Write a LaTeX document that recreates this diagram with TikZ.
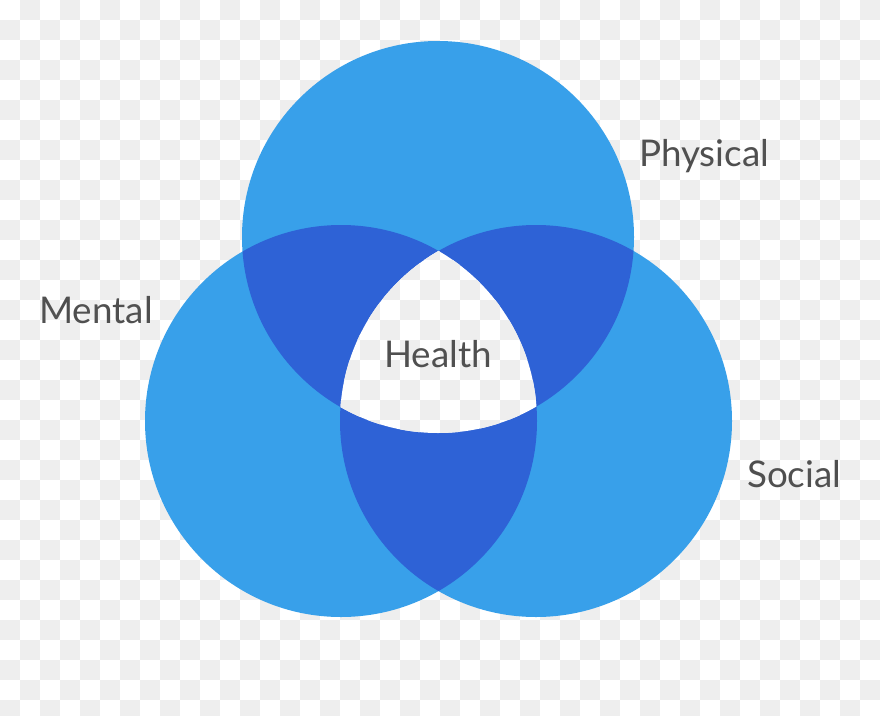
\documentclass[tikz,border=0pt]{standalone}
\usepackage{fontspec}
\newfontfamily\labfont{Lato}
\definecolor{lightblue}{HTML}{38A0EA}
\definecolor{darkblue}{HTML}{2E62D6}
\definecolor{chkgray}{HTML}{EEEEEE}
\definecolor{labgray}{HTML}{505050}
\tikzset{
  lab/.style={font=\labfont\fontsize{36.8}{42}\selectfont, text=labgray, inner sep=0pt, anchor=base west},
  chk/.style={fill=chkgray}
}
\newcommand\mychecks{%
  \foreach \j in {0,...,35}{%
    \pgfmathtruncatemacro\sh{mod(\j,2)}%
    \foreach \i in {0,2,...,42}{%
      \fill[chk] ({(\i+1-\sh)*20},{\j*20}) rectangle ++(20,20);
    }}}
\begin{document}
\begin{tikzpicture}[x=1pt,y=-1pt]
\useasboundingbox (0,0) rectangle (880,715);
\fill[white] (0,0) rectangle (880,715);
\mychecks
\coordinate (ctop) at (438,237);
\coordinate (cleft) at (341,421);
\coordinate (cright) at (536,421);
\def\r{196}
% base circles
\fill[lightblue] (ctop) circle[radius=\r];
\fill[lightblue] (cleft) circle[radius=\r];
\fill[lightblue] (cright) circle[radius=\r];
% pairwise overlaps
\begin{scope}
  \clip (ctop) circle[radius=\r];
  \fill[darkblue] (cleft) circle[radius=\r];
  \fill[darkblue] (cright) circle[radius=\r];
\end{scope}
\begin{scope}
  \clip (cleft) circle[radius=\r];
  \fill[darkblue] (cright) circle[radius=\r];
\end{scope}
% triple overlap shows background
\begin{scope}
  \clip (ctop) circle[radius=\r];
  \clip (cleft) circle[radius=\r];
  \clip (cright) circle[radius=\r];
  \fill[white] (0,0) rectangle (880,715);
  \mychecks
\end{scope}
\node[lab] (physical) at (639,166) {Physical};
\node[lab] (mental) at (39,323) {Mental};
\node[lab] (social) at (747,487) {Social};
\node[lab] (health) at (384,367) {Health};
\end{tikzpicture}
\end{document}
